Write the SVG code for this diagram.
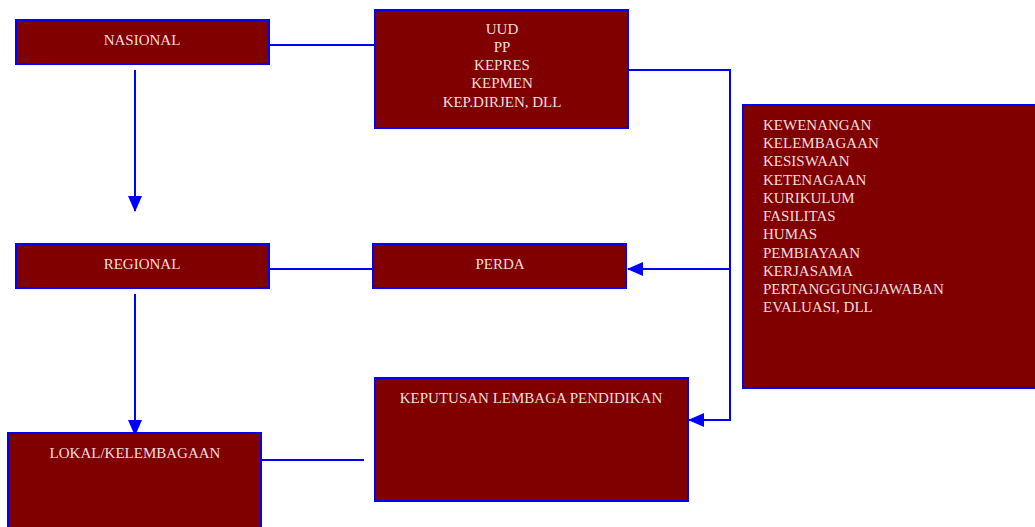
<svg xmlns="http://www.w3.org/2000/svg" width="1035" height="527" viewBox="0 0 1035 527">
<defs>
<style>
.box{fill:#800000;stroke:#0000ff;stroke-width:2}
.t{font-family:"Liberation Serif","Times New Roman",serif;font-size:15px;fill:#f3dede}
.c{text-anchor:middle}
.ln{stroke:#0000ff;stroke-width:2;fill:none}
.arr{marker-end:url(#ah)}
</style>
<marker id="ah" viewBox="0 0 16 14" refX="15" refY="7" markerWidth="16" markerHeight="14" markerUnits="userSpaceOnUse" orient="auto">
<path d="M0,0 L16,7 L0,14 z" fill="#0000ff"/>
</marker>
</defs>
<rect width="1035" height="527" fill="#ffffff"/>
<g id="connectors">
<line class="ln" x1="269" y1="45" x2="375" y2="45"/>
<line class="ln" x1="269" y1="269" x2="373" y2="269"/>
<line class="ln" x1="261" y1="460" x2="364" y2="460"/>
<polyline class="ln arr" points="628,70 730,70 730,420 689,420"/>
<line class="ln arr" x1="730" y1="269" x2="628" y2="269"/>
<line class="ln arr" x1="135" y1="70" x2="135" y2="211"/>
<line class="ln arr" x1="135" y1="294" x2="135" y2="435"/>
</g>
<g id="nasional">
<rect class="box" x="16" y="20" width="253" height="44"/>
<text class="t c" x="142" y="45">NASIONAL</text>
</g>
<g id="uud">
<rect class="box" x="375" y="10" width="253" height="118"/>
<text class="t c" x="502" y="34">UUD</text>
<text class="t c" x="502" y="52">PP</text>
<text class="t c" x="502" y="70">KEPRES</text>
<text class="t c" x="502" y="88">KEPMEN</text>
<text class="t c" x="502" y="107">KEP.DIRJEN, DLL</text>
</g>
<g id="kewenangan">
<rect class="box" x="743" y="105" width="300" height="283"/>
<text class="t" x="763" y="130">KEWENANGAN</text>
<text class="t" x="763" y="148">KELEMBAGAAN</text>
<text class="t" x="763" y="166">KESISWAAN</text>
<text class="t" x="763" y="185">KETENAGAAN</text>
<text class="t" x="763" y="203">KURIKULUM</text>
<text class="t" x="763" y="221">FASILITAS</text>
<text class="t" x="763" y="239">HUMAS</text>
<text class="t" x="763" y="258">PEMBIAYAAN</text>
<text class="t" x="763" y="276">KERJASAMA</text>
<text class="t" x="763" y="294">PERTANGGUNGJAWABAN</text>
<text class="t" x="763" y="312">EVALUASI, DLL</text>
</g>
<g id="regional">
<rect class="box" x="16" y="244" width="253" height="44"/>
<text class="t c" x="142" y="269">REGIONAL</text>
</g>
<g id="perda">
<rect class="box" x="373" y="244" width="253" height="44"/>
<text class="t c" x="500" y="269">PERDA</text>
</g>
<g id="lokal">
<rect class="box" x="8" y="433" width="253" height="100"/>
<text class="t c" x="135" y="458">LOKAL/KELEMBAGAAN</text>
</g>
<g id="keputusan">
<rect class="box" x="375" y="378" width="313" height="123"/>
<text class="t c" x="531" y="403">KEPUTUSAN LEMBAGA PENDIDIKAN</text>
</g>
</svg>
